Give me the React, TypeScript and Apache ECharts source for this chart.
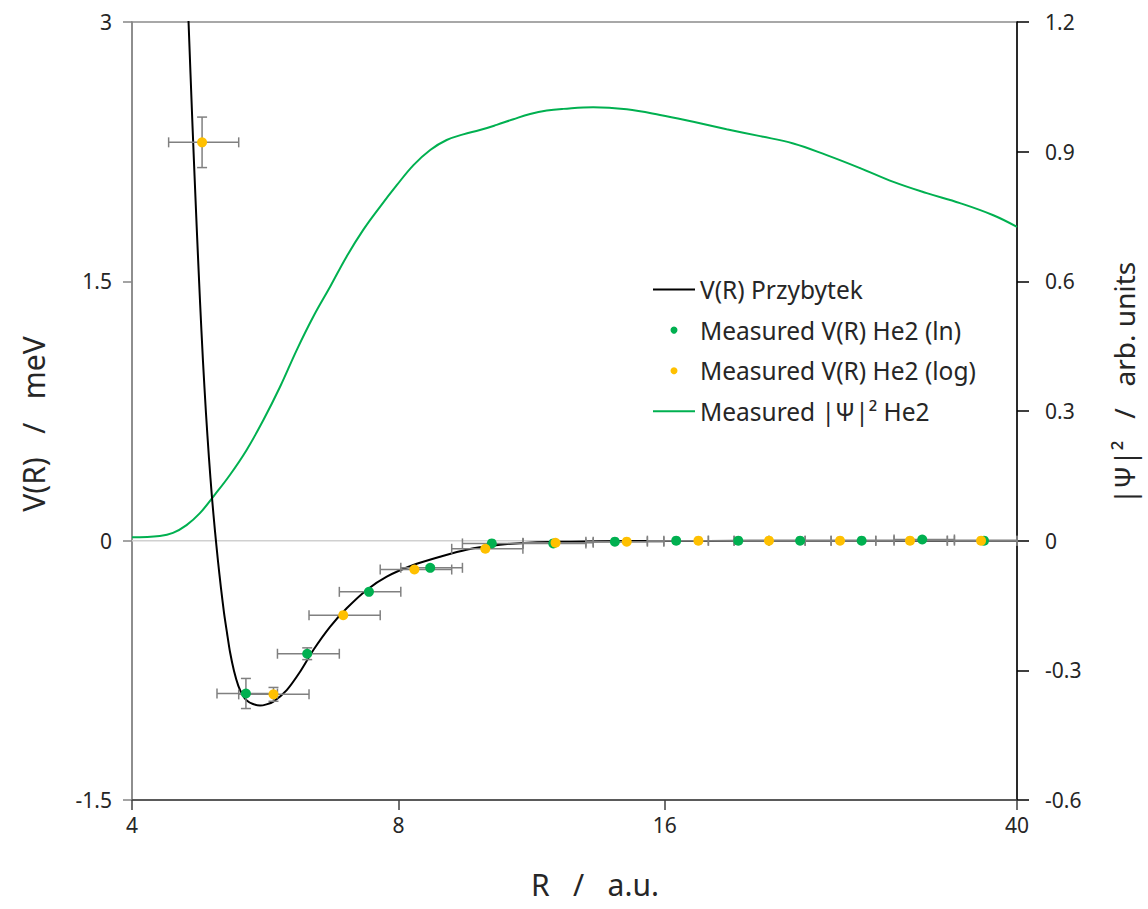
import React, { useEffect, useRef } from 'react';
import * as echarts from 'echarts';

// ---------- data ----------
const xTickValues = [4, 8, 16, 40];

// V(R) Przybytek potential (R in a.u., V in meV)
const curveR = [4.604, 4.634, 4.682, 4.733, 4.774, 4.811, 4.849, 4.887, 4.925, 4.964, 5.003, 5.042, 5.082, 5.122, 5.162, 5.216, 5.275, 5.333, 5.392, 5.48, 5.581, 5.676, 5.778, 5.983, 6.194, 6.412, 6.696, 6.993, 7.366, 7.761, 8.316, 8.914, 9.55, 10.42, 11.35, 12.5, 13.52, 16, 20, 26, 40];
const curveV = [3.391, 3.0, 2.398, 1.817, 1.388, 1.041, 0.737, 0.477, 0.251, 0.055, -0.119, -0.275, -0.417, -0.534, -0.644, -0.754, -0.840, -0.892, -0.924, -0.945, -0.954, -0.947, -0.931, -0.864, -0.758, -0.632, -0.498, -0.391, -0.285, -0.208, -0.141, -0.093, -0.052, -0.024, -0.010, -0.006, -0.003, -0.002, -0.001, 0, 0];

// Measured |Psi|^2 (right axis)
const psiR = [4.0, 4.30, 4.45, 4.61, 4.77, 4.96, 5.16, 5.39, 5.63, 5.88, 6.14, 6.41, 6.70, 6.99, 7.30, 7.63, 7.97, 8.32, 8.69, 9.07, 9.47, 9.89, 10.33, 10.79, 11.27, 11.77, 12.29, 13.28, 14.49, 15.80, 17.23, 18.79, 20.50, 22.35, 24.38, 26.59, 29.00, 31.63, 34.49, 37.61, 40];
const psiP = [0.008, 0.011, 0.018, 0.036, 0.063, 0.106, 0.152, 0.210, 0.279, 0.356, 0.441, 0.518, 0.588, 0.657, 0.719, 0.773, 0.823, 0.869, 0.904, 0.927, 0.940, 0.950, 0.962, 0.975, 0.987, 0.995, 0.999, 1.003, 0.998, 0.985, 0.969, 0.952, 0.936, 0.919, 0.892, 0.862, 0.830, 0.804, 0.781, 0.753, 0.726];

// Measured V(R) He2 (ln)
const lnR = [5.38, 6.31, 7.41, 8.69, 10.20, 11.97, 14.05, 16.48, 19.37, 22.75, 26.70, 31.26, 36.71];
const lnV = [-0.884, -0.654, -0.296, -0.157, -0.016, -0.016, -0.006, 0, 0, 0, 0, 0.007, 0];
const lnEdges = [4.99, 5.84, 6.86, 8.05, 9.45, 11.07, 13.03, 15.29, 17.92, 20.98, 24.66, 29.05, 33.99, 40.0];
const lnVErr = [0.087, 0.034, 0, 0, 0, 0, 0, 0, 0, 0, 0, 0, 0];

// Measured V(R) He2 (log)
const logR = [4.80, 5.78, 6.93, 8.34, 10.03, 12.04, 14.49, 17.46, 20.98, 25.24, 30.28, 36.43];
const logV = [2.304, -0.889, -0.431, -0.167, -0.047, -0.012, -0.006, 0, 0, 0, 0, 0];
const logEdges = [4.40, 5.28, 6.34, 7.63, 9.19, 11.06, 13.28, 15.96, 19.16, 23.05, 27.70, 33.37, 40.0];
const logVErr = [0.146, 0.04, 0, 0, 0, 0, 0, 0, 0, 0, 0, 0];

const zeroLineR = [4, 40];

// ---------- styling ----------
const FONT = '"Noto Sans", "Open Sans", sans-serif';
const GREEN = '#00b050';
const YELLOW = '#ffc000';
const TEXT = '#262626';
const ERR = '#808080';
const LINE_ICON = 'path://M0,0H42V2H0Z';

function errRows(r: number[], v: number[], edges: number[], verr: number[]) {
  return r.map((x, i) => [x, v[i], edges[i], edges[i + 1], v[i] - verr[i], v[i] + verr[i]]);
}

function errorBarSeries(rows: number[][]) {
  return {
    type: 'custom',
    xAxisIndex: 0,
    yAxisIndex: 0,
    silent: true,
    z: 4,
    encode: { x: [0, 2, 3], y: [1, 4, 5] },
    data: rows,
    renderItem: (params: any, api: any) => {
      const x = api.value(0);
      const y = api.value(1);
      const c = api.coord([x, y]);
      const pl = api.coord([api.value(2), y]);
      const ph = api.coord([api.value(3), y]);
      const style = { stroke: ERR, lineWidth: 1.5 };
      const cap = 5;
      const children: any[] = [
        { type: 'line', shape: { x1: pl[0], y1: c[1], x2: ph[0], y2: c[1] }, style },
        { type: 'line', shape: { x1: pl[0], y1: c[1] - cap, x2: pl[0], y2: c[1] + cap }, style },
        { type: 'line', shape: { x1: ph[0], y1: c[1] - cap, x2: ph[0], y2: c[1] + cap }, style },
      ];
      const yl = api.value(4);
      const yh = api.value(5);
      if (yh - yl > 1e-9) {
        const pb = api.coord([x, yl]);
        const pt = api.coord([x, yh]);
        children.push(
          { type: 'line', shape: { x1: c[0], y1: pb[1], x2: c[0], y2: pt[1] }, style },
          { type: 'line', shape: { x1: c[0] - cap, y1: pb[1], x2: c[0] + cap, y2: pb[1] }, style },
          { type: 'line', shape: { x1: c[0] - cap, y1: pt[1], x2: c[0] + cap, y2: pt[1] }, style },
        );
      }
      return { type: 'group', children };
    },
  };
}

export default function App() {
  const ref = useRef<HTMLDivElement>(null);

  useEffect(() => {
    document.body.style.margin = '0';
    document.body.style.overflow = 'hidden';
    const chart = echarts.init(ref.current as HTMLDivElement, null, { renderer: 'svg' });

    const option: any = {
      animation: false,
      backgroundColor: '#ffffff',
      textStyle: { fontFamily: FONT },
      grid: {
        left: 132, right: 131, top: 22, bottom: 109,
        show: true, borderColor: '#8c8c8c', borderWidth: 1.5, backgroundColor: 'transparent',
      },
      legend: {
        orient: 'vertical',
        left: 653,
        top: 277,
        itemWidth: 42,
        itemHeight: 7,
        itemGap: 15.6,
        padding: 0,
        selectedMode: false,
        textStyle: { fontSize: 24.5, color: TEXT, fontFamily: FONT },
        data: [
          { name: 'V(R) Przybytek', icon: LINE_ICON },
          { name: 'Measured V(R) He2 (ln)', icon: 'circle' },
          { name: 'Measured V(R) He2 (log)', icon: 'circle' },
          { name: 'Measured |Ψ|² He2', icon: LINE_ICON },
        ],
      },
      xAxis: {
        type: 'log',
        logBase: 2,
        min: 4,
        max: 40,
        name: 'R   /   a.u.',
        nameLocation: 'middle',
        nameGap: 69,
        nameTextStyle: { fontSize: 30, color: TEXT, fontFamily: FONT, padding: [0, 0, 0, 41] },
        axisLine: { show: true, onZero: false, lineStyle: { color: '#404040', width: 1.5 } },
        axisTick: { show: true, inside: false, length: 10, customValues: xTickValues, lineStyle: { color: '#404040', width: 1.5 } },
        axisLabel: {
          customValues: xTickValues,
          formatter: (v: number) => String(Math.round(v)),
          margin: 14,
          fontSize: 21,
          color: TEXT,
          fontFamily: FONT,
          showMinLabel: true,
          showMaxLabel: true,
        },
        splitLine: { show: false },
        minorTick: { show: false },
      },
      yAxis: [
        {
          type: 'value',
          position: 'left',
          min: -1.5,
          max: 3,
          interval: 1.5,
          name: 'V(R)   /   meV',
          nameLocation: 'middle',
          nameRotate: 90,
          nameGap: 84,
          nameTextStyle: { fontSize: 30, color: TEXT, fontFamily: FONT, padding: [0, 26, 0, 0] },
          axisLine: { show: true, lineStyle: { color: '#868686', width: 1.5 } },
          axisTick: { show: true, inside: false, length: 9, lineStyle: { color: '#868686', width: 1.5 } },
          axisLabel: { fontSize: 21, color: TEXT, fontFamily: FONT, margin: 20 },
          splitLine: { show: false },
        },
        {
          type: 'value',
          position: 'right',
          min: -0.6,
          max: 1.2,
          interval: 0.3,
          name: '|Ψ|²   /   arb. units',
          nameLocation: 'middle',
          nameRotate: 90,
          nameGap: 93,
          nameTextStyle: { fontSize: 28, color: TEXT, fontFamily: FONT, padding: [0, 0, 0, 56] },
          axisLine: { show: true, lineStyle: { color: '#000000', width: 1.5 } },
          axisTick: { show: true, inside: false, length: 12, lineStyle: { color: '#000000', width: 1.5 } },
          axisLabel: { fontSize: 21, color: TEXT, fontFamily: FONT, margin: 28 },
          splitLine: { show: false },
        },
      ],
      series: [
        {
          name: 'zero',
          type: 'line',
          xAxisIndex: 0,
          yAxisIndex: 0,
          data: zeroLineR.map((r) => [r, 0]),
          symbol: 'none',
          silent: true,
          lineStyle: { color: '#d0d0d0', width: 1.5 },
          z: 1,
        },
        {
          name: 'Measured |Ψ|² He2',
          type: 'line',
          xAxisIndex: 0,
          yAxisIndex: 1,
          data: psiR.map((r, i) => [r, psiP[i]]),
          symbol: 'none',
          smooth: 0.4,
          lineStyle: { color: GREEN, width: 2 },
          itemStyle: { color: GREEN },
          z: 2,
        },
        {
          name: 'V(R) Przybytek',
          type: 'line',
          xAxisIndex: 0,
          yAxisIndex: 0,
          data: curveR.map((r, i) => [r, curveV[i]]),
          symbol: 'none',
          smooth: 0.25,
          lineStyle: { color: '#000000', width: 2 },
          itemStyle: { color: '#000000' },
          z: 3,
        },
        errorBarSeries(errRows(lnR, lnV, lnEdges, lnVErr)),
        errorBarSeries(errRows(logR, logV, logEdges, logVErr)),
        {
          name: 'Measured V(R) He2 (ln)',
          type: 'scatter',
          xAxisIndex: 0,
          yAxisIndex: 0,
          data: lnR.map((r, i) => [r, lnV[i]]),
          symbol: 'circle',
          symbolSize: 10,
          itemStyle: { color: GREEN, opacity: 1 },
          z: 5,
        },
        {
          name: 'Measured V(R) He2 (log)',
          type: 'scatter',
          xAxisIndex: 0,
          yAxisIndex: 0,
          data: logR.map((r, i) => [r, logV[i]]),
          symbol: 'circle',
          symbolSize: 10,
          itemStyle: { color: YELLOW, opacity: 1 },
          z: 5,
        },
      ],
    };

    chart.setOption(option);
    return () => chart.dispose();
  }, []);

  return <div ref={ref} style={{ width: 1148, height: 909 }} />;
}
